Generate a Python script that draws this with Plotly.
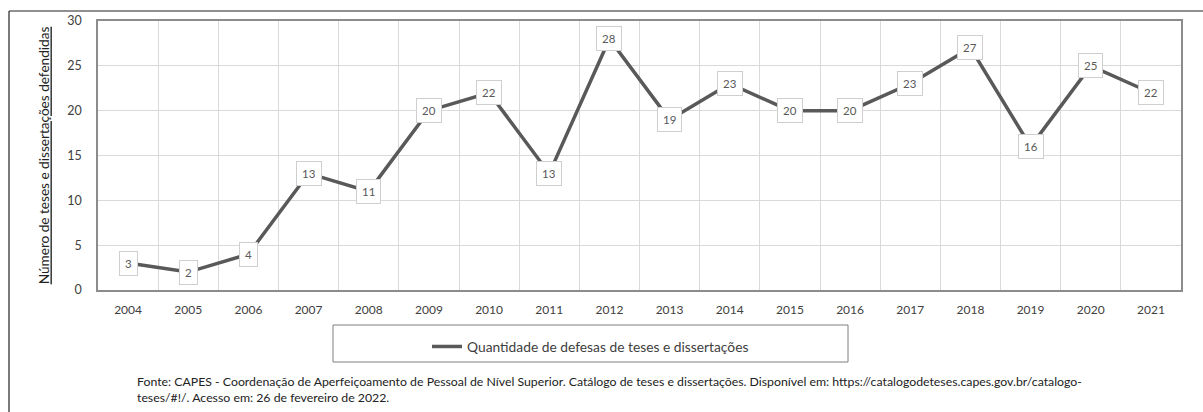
import plotly.graph_objects as go

# Defesas por ano
anos = [str(a) for a in range(2004, 2022)]
defesas = [3, 2, 4, 13, 11, 20, 22, 13, 28, 19, 23, 20, 20, 23, 27, 16, 25, 22]

serie_nome = "Quantidade de defesas de teses e dissertações"
titulo_y = "Número de teses e dissertações defendidas"
fonte_txt = ("Fonte: CAPES - Coordenação de Aperfeiçoamento de Pessoal de Nível Superior. "
             "Catálogo de teses e dissertações. Disponível em: https://catalogodeteses.capes.gov.br/catalogo-"
             "<br>teses/#!/. Acesso em: 26 de fevereiro de 2022.")

W, H = 1203, 412
ML, MR, MT, MB = 98, 22, 21, 122
PW, PH = W - ML - MR, H - MT - MB

FONT = "Lato"
LINE = "#595959"
GRID = "#d9d9d9"
TXT = "#404040"


def px(x):
    return (x - ML) / PW


def py(y):
    return (H - MB - y) / PH


fig = go.Figure()
fig.add_trace(go.Scatter(
    x=anos, y=defesas, mode="lines", name=serie_nome,
    line=dict(color=LINE, width=3.5), showlegend=True,
))

# Rótulos de valor em caixas brancas sobre cada ponto
# (posição x pelo índice da categoria no eixo categórico)
for i, v in enumerate(defesas):
    fig.add_annotation(
        x=i, y=v, xref="x", yref="y", text=str(v), showarrow=False,
        font=dict(family=FONT, size=11.5, color="#595959"),
        bgcolor="white", bordercolor="#cfcfcf", borderwidth=1, borderpad=5,
    )

# Moldura externa (bordas superior e esquerda)
fig.add_shape(type="line", xref="paper", yref="paper",
              x0=px(9), x1=px(W + 5), y0=py(11), y1=py(11),
              line=dict(color="#222222", width=1.2))
fig.add_shape(type="line", xref="paper", yref="paper",
              x0=px(9), x1=px(9), y0=py(11), y1=py(H + 5),
              line=dict(color="#222222", width=1.2))

# Caixa da legenda
fig.add_shape(type="rect", xref="paper", yref="paper",
              x0=px(333), x1=px(848), y0=py(325), y1=py(362),
              line=dict(color="#7f7f7f", width=1), fillcolor="rgba(0,0,0,0)")

# Nota de fonte
fig.add_annotation(
    xref="paper", yref="paper", x=px(135), y=py(372),
    xanchor="left", yanchor="top", align="left", showarrow=False,
    text=fonte_txt, font=dict(family=FONT, size=12.3, color="#222222"),
)

fig.update_layout(
    width=W, height=H,
    margin=dict(l=ML, r=MR, t=MT, b=MB),
    paper_bgcolor="white", plot_bgcolor="white",
    font=dict(family=FONT, size=11, color=TXT),
    showlegend=True,
    legend=dict(
        orientation="h", x=px(427), y=py(331), xanchor="left", yanchor="top",
        font=dict(family=FONT, size=13.8, color=TXT),
        bgcolor="rgba(0,0,0,0)", borderwidth=0,
    ),
    xaxis=dict(
        type="category", range=[-0.5, len(anos) - 0.5],
        tickson="boundaries", showgrid=True, gridcolor=GRID, gridwidth=1,
        showline=True, linecolor="#8c8c8c", linewidth=1.5, mirror=True,
        ticks="", tickfont=dict(family=FONT, size=12, color=TXT),
        ticklabelstandoff=8, zeroline=False,
    ),
    yaxis=dict(
        range=[0, 30], tickvals=[0, 5, 10, 15, 20, 25, 30],
        showgrid=True, gridcolor=GRID, gridwidth=1,
        showline=True, linecolor="#8c8c8c", linewidth=1.5, mirror=True,
        ticks="", tickfont=dict(family=FONT, size=12.5, color=TXT),
        ticklabelstandoff=12, zeroline=False,
        title=dict(text="<u>" + titulo_y + "</u>", standoff=14,
                   font=dict(family=FONT, size=13.6, color="#222222")),
    ),
)

fig.write_html("out.html")
